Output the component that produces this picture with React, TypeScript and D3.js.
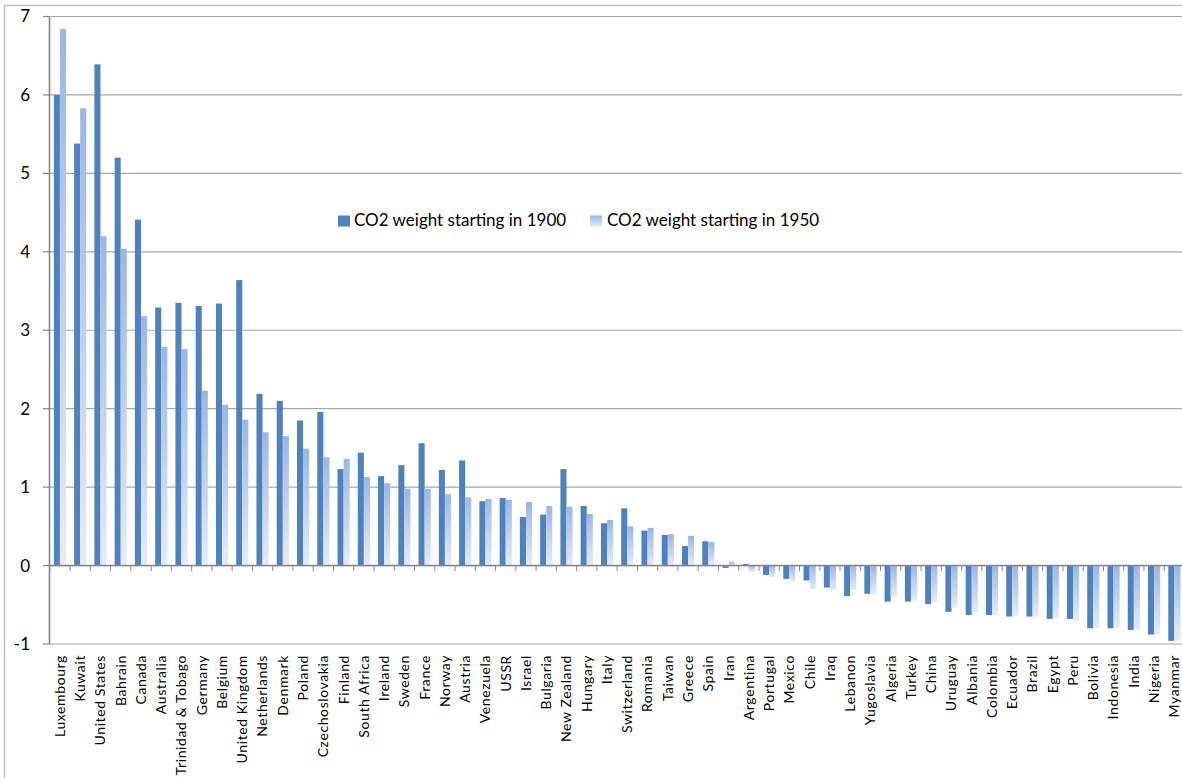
import React from "react";
import * as d3 from "d3";

// Countries ordered as plotted
const countries: string[] = [
  "Luxembourg", "Kuwait", "United States", "Bahrain", "Canada", "Australia",
  "Trinidad & Tobago", "Germany", "Belgium", "United Kingdom", "Netherlands",
  "Denmark", "Poland", "Czechoslovakia", "Finland", "South Africa", "Ireland",
  "Sweden", "France", "Norway", "Austria", "Venezuela", "USSR", "Israel",
  "Bulgaria", "New Zealand", "Hungary", "Italy", "Switzerland", "Romania",
  "Taiwan", "Greece", "Spain", "Iran", "Argentina", "Portugal", "Mexico",
  "Chile", "Iraq", "Lebanon", "Yugoslavia", "Algeria", "Turkey", "China",
  "Uruguay", "Albania", "Colombia", "Ecuador", "Brazil", "Egypt", "Peru",
  "Bolivia", "Indonesia", "India", "Nigeria", "Myanmar",
];

// CO2 weight, cumulative from 1900
const weight1900: number[] = [
  6.0, 5.38, 6.39, 5.2, 4.41, 3.29, 3.35, 3.31, 3.34, 3.64, 2.19, 2.1, 1.85,
  1.96, 1.23, 1.44, 1.14, 1.28, 1.56, 1.22, 1.34, 0.82, 0.86, 0.62, 0.65, 1.23,
  0.76, 0.54, 0.73, 0.445, 0.39, 0.25, 0.31, -0.03, 0.02, -0.12, -0.17, -0.19,
  -0.28, -0.39, -0.36, -0.46, -0.46, -0.49, -0.59, -0.63, -0.63, -0.65, -0.65,
  -0.68, -0.68, -0.8, -0.8, -0.82, -0.88, -0.96,
];

// CO2 weight, cumulative from 1950
const weight1950: number[] = [
  6.84, 5.83, 4.2, 4.04, 3.18, 2.79, 2.76, 2.23, 2.05, 1.86, 1.7, 1.65, 1.49,
  1.38, 1.36, 1.13, 1.05, 0.98, 0.98, 0.91, 0.87, 0.85, 0.84, 0.81, 0.76, 0.75,
  0.66, 0.58, 0.5, 0.48, 0.4, 0.38, 0.3, 0.05, -0.08, -0.145, -0.2, -0.3, -0.31,
  -0.31, -0.36, -0.41, -0.45, -0.46, -0.54, -0.6, -0.63, -0.65, -0.65, -0.67,
  -0.71, -0.8, -0.8, -0.82, -0.88, -0.96,
];

const yTicks: number[] = [-1, 0, 1, 2, 3, 4, 5, 6, 7];

const seriesNames: string[] = [
  "CO2 weight starting in 1900",
  "CO2 weight starting in 1950",
];

const W = 1182;
const H = 778;
const FONT = "Lato, 'Open Sans', sans-serif";
const DARK = "#4F81BD";

export default function App() {
  const x = d3.scaleBand<string>().domain(countries).range([49.8, 1184.5]).padding(0);
  const y = d3.scaleLinear().domain([-1, 7]).range([644, 16.5]);
  const bw = x.bandwidth() * 0.3;
  const y0 = y(0);

  const barRect = (v: number) => ({
    y: Math.min(y(v), y0),
    height: Math.abs(y(v) - y0),
  });

  return (
    <svg
      width={W}
      height={H}
      style={{ position: "absolute", left: 0, top: 0, background: "#fff" }}
      fontFamily={FONT}
    >
      <defs>
        <linearGradient id="lightFill" x1="0" y1="0" x2="0" y2="1">
          <stop offset="0" stopColor="#9AB6E5" />
          <stop offset="1" stopColor="#E5ECF7" />
        </linearGradient>
      </defs>

      {/* chart frame */}
      <rect x={4.5} y={5.5} width={W + 10} height={H + 10} fill="#fff" stroke="#BFBFBF" strokeWidth={1.5} />

      {/* gridlines */}
      {yTicks.map((t) => (
        <line
          key={"g" + t}
          x1={49.5}
          x2={W}
          y1={y(t)}
          y2={y(t)}
          stroke="#A6A6A6"
          strokeWidth={1.2}
        />
      ))}

      {/* bars */}
      {countries.map((c, i) => {
        const cx = (x(c) as number) + x.bandwidth() / 2;
        const a = barRect(weight1900[i]);
        const b = barRect(weight1950[i]);
        return (
          <g key={c}>
            <rect x={cx - bw} y={a.y} width={bw} height={a.height} fill={DARK} />
            <rect x={cx} y={b.y} width={bw} height={b.height} fill="url(#lightFill)" />
          </g>
        );
      })}

      {/* x axis at zero with category ticks */}
      <line x1={49.5} x2={W} y1={y0} y2={y0} stroke="#868686" strokeWidth={1.6} />
      {countries.map((c) => (
        <line
          key={"xt" + c}
          x1={x(c) as number}
          x2={x(c) as number}
          y1={y0}
          y2={y0 + 5.5}
          stroke="#868686"
          strokeWidth={1}
        />
      ))}

      {/* y axis */}
      <line x1={49.5} x2={49.5} y1={y(7)} y2={y(-1)} stroke="#868686" strokeWidth={1.6} />
      {yTicks.map((t) => (
        <g key={"yt" + t}>
          <line x1={43} x2={49.5} y1={y(t)} y2={y(t)} stroke="#868686" strokeWidth={1.2} />
          <text
            x={30}
            y={y(t)}
            dy="0.35em"
            textAnchor="end"
            fontSize={17}
            fill="#000"
          >
            {t}
          </text>
        </g>
      ))}

      {/* category labels */}
      {countries.map((c) => {
        const cx = (x(c) as number) + x.bandwidth() / 2;
        return (
          <text
            key={"lbl" + c}
            transform={`translate(${cx},655) rotate(-90)`}
            dy="0.35em"
            textAnchor="end"
            fontSize={14}
            letterSpacing={0.6}
            fill="#000"
          >
            {c}
          </text>
        );
      })}

      {/* legend */}
      <g>
        <rect x={338} y={215.5} width={12} height={11} fill={DARK} />
        <text x={354} y={226} fontSize={17} fill="#000">
          {seriesNames[0]}
        </text>
        <rect x={590} y={215.5} width={12} height={11} fill="url(#lightFill)" />
        <text x={607} y={226} fontSize={17} fill="#000">
          {seriesNames[1]}
        </text>
      </g>
    </svg>
  );
}
